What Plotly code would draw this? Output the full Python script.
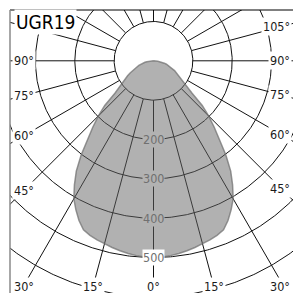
import numpy as np
import plotly.graph_objects as go

# ---- data (luminous intensity in cd, gamma in degrees from nadir) ----
gamma_deg = [0, 2.5, 5, 7.5, 10, 12.5, 15, 17.5, 20, 22.5, 25, 27.5, 30, 32.5, 35, 37.5,
             40, 42.5, 45, 47.5, 50, 52.5, 55, 57.5, 60, 62.5, 65, 67.5, 70, 72.5, 75,
             77.5, 80, 82.5, 85, 87.5, 90]
intensity_cd = [500, 499, 497, 494, 490, 486, 481, 477, 472, 465, 448, 427, 405, 374, 342, 302,
                260, 228, 198, 168, 128, 107, 95, 84, 76, 67, 59, 50, 44, 39, 34,
                28, 22, 17, 11, 6, 0]

ring_values = [100, 200, 300, 400, 500, 600, 700]
ring_label_values = [200, 300, 400, 500]
spoke_angles = list(range(0, 360, 15))
angle_tick_values = [0, 15, 30, 45, 60, 75, 90, 105]
title_text = "UGR19"

# ---- style / geometry ----
FONT = "DejaVu Sans Condensed, Liberation Sans Narrow, Arial Narrow, sans-serif"
GRID = "#111111"
FILL = "rgba(100,100,100,0.5)"
FILL_SOLID = "#b2b2b2"
EDGE = "rgba(115,115,115,0.75)"

PX = 0.3935             # pixels per cd
CXV, CYV = 153.5, 60.8  # pole position in the window


def dx(xv):  # window pixel -> data x
    return (xv - CXV) / PX


def dy(yv):  # window pixel -> data y
    return (CYV - yv) / PX


W = H = 293
L = T = 10

fig = go.Figure()

# rings
rx, ry = [], []
th = np.radians(np.linspace(0, 360, 721))
for v in ring_values:
    rx += list(v * np.sin(th)) + [None]
    ry += list(-v * np.cos(th)) + [None]
fig.add_trace(go.Scatter(x=rx, y=ry, mode="lines", line=dict(color=GRID, width=1),
                         hoverinfo="skip", showlegend=False))

# spokes (from the inner circle outwards)
sx, sy = [], []
r_in, r_out = ring_values[0], 1200
for a in spoke_angles:
    ar = np.radians(a)
    sx += [r_in * np.sin(ar), r_out * np.sin(ar), None]
    sy += [-r_in * np.cos(ar), -r_out * np.cos(ar), None]
fig.add_trace(go.Scatter(x=sx, y=sy, mode="lines", line=dict(color=GRID, width=1),
                         hoverinfo="skip", showlegend=False))

# light distribution curve (symmetric)
g = np.radians(np.array(gamma_deg))
I = np.array(intensity_cd, dtype=float)
cx = np.concatenate([-(I * np.sin(g))[::-1], (I * np.sin(g))[1:]])
cy = np.concatenate([-(I * np.cos(g))[::-1], -(I * np.cos(g))[1:]])
fig.add_trace(go.Scatter(x=cx, y=cy, mode="lines", fill="toself", fillcolor=FILL,
                         line=dict(color=EDGE, width=1.5), hoverinfo="skip", showlegend=False))

annotations = []
# ring labels along the 0° spoke
for v in ring_label_values:
    annotations.append(dict(x=0, y=-v, xref="x", yref="y", text=str(v), showarrow=False,
                            font=dict(family=FONT, size=12.5, color="#707070"),
                            bgcolor=("white" if v >= 500 else FILL_SOLID), borderpad=0))

# angle labels where the spokes meet the label frame
LAB = dict(showarrow=False, xref="x", yref="y", bgcolor="white", borderpad=1,
           font=dict(family=FONT, size=12.5, color="#1a1a1a"))
X_L, X_R, Y_B = dx(24), dx(281), dy(286)
XA_L, XA_R = dx(12), dx(292)
for a in angle_tick_values:
    ar = np.radians(a)
    for s in ([1] if a == 0 else [-1, 1]):
        if s < 0 and a > 90:
            continue  # hidden under the title box
        txt = f"{a}°"
        if a <= 30:  # bottom row
            xb = s * (-Y_B) * np.tan(ar)
            if a == 30:
                annotations.append(dict(LAB, text=txt, y=Y_B,
                                        x=XA_L if s < 0 else XA_R,
                                        xanchor="left" if s < 0 else "right"))
            else:
                annotations.append(dict(LAB, text=txt, x=xb, y=Y_B))
        else:  # side columns
            xs = X_L if s < 0 else X_R
            t = abs(xs) / np.sin(ar)
            annotations.append(dict(LAB, text=txt, y=-t * np.cos(ar),
                                    x=XA_L if s < 0 else XA_R,
                                    xanchor="left" if s < 0 else "right"))

annotations.append(dict(x=0, y=1, xref="paper", yref="paper", xanchor="left", yanchor="top",
                        xshift=4, yshift=1, text=title_text, showarrow=False,
                        font=dict(family=FONT, size=19, color="#000000"),
                        bgcolor="white", borderpad=1))

fig.update_layout(
    width=W, height=H,
    margin=dict(l=L, r=0, t=T, b=0, pad=0),
    paper_bgcolor="white", plot_bgcolor="white",
    xaxis=dict(range=[dx(10), dx(293)], showgrid=False, zeroline=False, showticklabels=False,
               ticks="", showline=False, fixedrange=True),
    yaxis=dict(range=[dy(293), dy(10)], showgrid=False, zeroline=False, showticklabels=False,
               ticks="", showline=False, fixedrange=True),
    annotations=annotations,
    shapes=[
        dict(type="line", xref="paper", yref="paper", x0=0, x1=1, y0=1, y1=1,
             line=dict(color="#000000", width=1), layer="above"),
        dict(type="line", xref="paper", yref="paper", x0=0, x1=0, y0=0, y1=1,
             line=dict(color="#8a8a8a", width=1.5), layer="above"),
    ],
)

fig.write_html(
    "out.html",
    config={"displayModeBar": False, "staticPlot": True},
    post_script="document.body.style.margin='0';"
                "document.documentElement.style.overflow='hidden';",
)
